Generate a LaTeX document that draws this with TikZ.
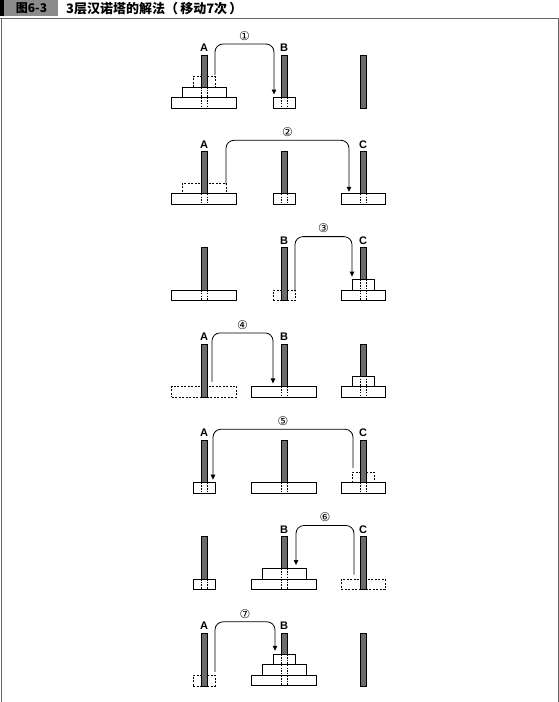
\documentclass[tikz,border=0pt]{standalone}
\usepackage{fontspec}
\setmainfont{Liberation Sans}
\newfontfamily\cjk{Noto Sans CJK SC}
\newfontfamily\dejavu{DejaVu Sans}
\usetikzlibrary{arrows.meta}
\begin{document}
\begin{tikzpicture}[x=1pt,y=-1pt,
  pegst/.style={draw=black,fill=black!58,line width=0.5pt},
  diskst/.style={draw=black,fill=white,minimum height=10.5pt,inner sep=0pt,line width=0.7pt},
  ghostst/.style={draw=black,dash pattern=on 2pt off 1.5pt,minimum height=10.5pt,inner sep=0pt,line width=0.6pt},
  inpeg/.style={draw=black,dash pattern=on 1.5pt off 1.2pt,line width=0.5pt},
  movest/.style={draw=black,line width=0.8pt,rounded corners=8pt,-{Triangle[length=5pt,width=4.5pt]}},
  numst/.style={font=\dejavu\fontsize{12}{12}\selectfont,inner sep=0pt},
  labst/.style={font=\bfseries\fontsize{11}{11}\selectfont,inner sep=0pt},
  framest/.style={draw=black!60,line width=0.8pt}]
\useasboundingbox (0,0) rectangle (559,702);
\def\h{10.5}
\def\pw{2.75}
\newcommand\pegat[3]{\draw[pegst] ({#1-\pw},{#2-53}) rectangle ({#1+\pw},{#2-#3*\h});}
\newcommand\diskat[5]{\node[diskst,minimum width=#5pt] (#1) at (#2,{#3-(#4-0.5)*\h}) {};
  \draw[inpeg] ({#2-\pw},{#3-#4*\h}) -- ({#2-\pw},{#3-(#4-1)*\h}) ({#2+\pw},{#3-#4*\h}) -- ({#2+\pw},{#3-(#4-1)*\h});}
\newcommand\ghostat[5]{\node[ghostst,minimum width=#5pt] (#1) at (#2,{#3-(#4-0.5)*\h}) {};}
\newcommand\labat[4]{\node[labst] (#1) at (#2,{#3-60}) {#4};}
\newcommand\move[8]{\coordinate (#1s) at (#2,{#6-#3}); \coordinate (#1d) at (#4,{#6-#5});
  \coordinate (#1t) at ({(#2+#4)/2},{#6-64});
  \draw[movest] (#1s) -- (#1s |- #1t) -- (#1d |- #1t) -- (#1d);
  \node[numst] (#1n) at ({(#2+#4)/2},{#6-72}) {#7};}
% header
\fill[black] (0,0) rectangle (4,16);
\fill[black!45] (4,0) rectangle (58,16);
\node[font=\cjk\bfseries\fontsize{12}{12}\selectfont,inner sep=0pt] (fig) at (31.5,8.5) {图6-3};
\node[font=\cjk\bfseries\fontsize{13}{13}\selectfont,inner sep=0pt,anchor=west] (title) at (66,9) {3层汉诺塔的解法（\,移动7次\,）};
\draw[framest] (0,18) -- (558,18) -- (558,702);
\draw[framest] (1.5,18) -- (1.5,702);
% row 1
\def\rb{108}
\ghostat{r1g}{204}{\rb}{3}{22}
\pegat{204}{\rb}{2}\pegat{284}{\rb}{1}\pegat{363}{\rb}{0}
\diskat{r1AL}{204}{\rb}{1}{65}\diskat{r1AM}{204}{\rb}{2}{44}\diskat{r1BS}{284}{\rb}{1}{22}
\labat{r1A}{204}{\rb}{A}\labat{r1B}{284}{\rb}{B}
\move{r1}{215}{33}{274}{13.5}{\rb}{①}{}
% row 2
\def\rb{204.3}
\ghostat{r2g}{204}{\rb}{2}{44}
\pegat{204}{\rb}{1}\pegat{284}{\rb}{1}\pegat{363}{\rb}{1}
\diskat{r2AL}{204}{\rb}{1}{65}\diskat{r2BS}{284}{\rb}{1}{22}\diskat{r2CM}{363}{\rb}{1}{44}
\labat{r2A}{204}{\rb}{A}\labat{r2C}{363}{\rb}{C}
\move{r2}{226}{20}{349}{12.5}{\rb}{②}{}
% row 3
\def\rb{300.6}
\ghostat{r3g}{284}{\rb}{1}{22}
\pegat{204}{\rb}{1}\pegat{284}{\rb}{0}\pegat{363}{\rb}{2}
\diskat{r3AL}{204}{\rb}{1}{65}\diskat{r3CM}{363}{\rb}{1}{44}\diskat{r3CS}{363}{\rb}{2}{22}
\labat{r3B}{284}{\rb}{B}\labat{r3C}{363}{\rb}{C}
\move{r3}{295}{9}{352}{24}{\rb}{③}{}
% row 4
\def\rb{396.9}
\ghostat{r4g}{204}{\rb}{1}{65}
\pegat{204}{\rb}{0}\pegat{284}{\rb}{1}\pegat{363}{\rb}{2}
\diskat{r4BL}{284}{\rb}{1}{65}\diskat{r4CM}{363}{\rb}{1}{44}\diskat{r4CS}{363}{\rb}{2}{22}
\labat{r4A}{204}{\rb}{A}\labat{r4B}{284}{\rb}{B}
\move{r4}{212}{15}{273}{13.5}{\rb}{④}{}
% row 5
\def\rb{493.2}
\ghostat{r5g}{363}{\rb}{2}{22}
\pegat{204}{\rb}{1}\pegat{284}{\rb}{1}\pegat{363}{\rb}{1}
\diskat{r5AS}{204}{\rb}{1}{22}\diskat{r5BL}{284}{\rb}{1}{65}\diskat{r5CM}{363}{\rb}{1}{44}
\labat{r5A}{204}{\rb}{A}\labat{r5C}{363}{\rb}{C}
\move{r5}{353}{25}{213}{13.5}{\rb}{⑤}{}
% row 6
\def\rb{589.5}
\ghostat{r6g}{363}{\rb}{1}{44}
\pegat{204}{\rb}{1}\pegat{284}{\rb}{2}\pegat{363}{\rb}{0}
\diskat{r6AS}{204}{\rb}{1}{22}\diskat{r6BL}{284}{\rb}{1}{65}\diskat{r6BM}{284}{\rb}{2}{44}
\labat{r6B}{284}{\rb}{B}\labat{r6C}{363}{\rb}{C}
\move{r6}{354}{15}{296}{24.5}{\rb}{⑥}{}
% row 7
\def\rb{685.8}
\ghostat{r7g}{204}{\rb}{1}{22}
\pegat{204}{\rb}{0}\pegat{284}{\rb}{3}\pegat{363}{\rb}{0}
\diskat{r7BL}{284}{\rb}{1}{65}\diskat{r7BM}{284}{\rb}{2}{44}\diskat{r7BS}{284}{\rb}{3}{22}
\labat{r7A}{204}{\rb}{A}\labat{r7B}{284}{\rb}{B}
\move{r7}{215}{14}{275}{35}{\rb}{⑦}{}
\end{tikzpicture}
\end{document}
